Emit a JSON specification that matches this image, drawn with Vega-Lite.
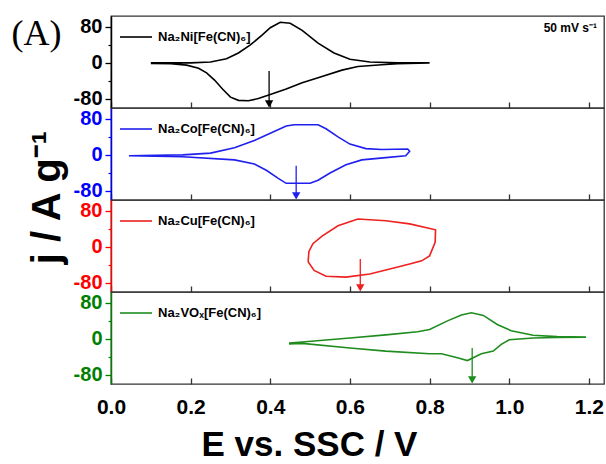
{
  "$schema": "https://vega.github.io/schema/vega-lite/v6.json",
  "padding": {"left": 10, "top": 14, "right": 0, "bottom": 0},
  "spacing": 0,
  "bounds": "flush",
  "resolve": {"scale": {"color": "independent"}, "legend": {"color": "independent"}},
  "config": {
    "font": "Liberation Sans",
    "view": {"stroke": "#333", "strokeWidth": 1.3},
    "axis": {"grid": false, "labelFont": "Liberation Sans", "titleFont": "Liberation Sans"},
    "legend": {"orient": "none", "legendX": 8, "legendY": 4, "padding": 0, "symbolType": "stroke", "symbolSize": 1024, "symbolStrokeWidth": 1.6, "labelFontSize": 13, "labelFontWeight": "bold", "labelColor": "#000", "labelOffset": 5, "labelFont": "Liberation Sans"}
  },
  "datasets": {
    "cv": [
      {"s": "Na₂Ni[Fe(CN)₆]", "i": 0, "E": 0.10, "j": 0},
      {"s": "Na₂Ni[Fe(CN)₆]", "i": 1, "E": 0.20, "j": 0},
      {"s": "Na₂Ni[Fe(CN)₆]", "i": 2, "E": 0.25, "j": 2},
      {"s": "Na₂Ni[Fe(CN)₆]", "i": 3, "E": 0.29, "j": 9},
      {"s": "Na₂Ni[Fe(CN)₆]", "i": 4, "E": 0.32, "j": 22},
      {"s": "Na₂Ni[Fe(CN)₆]", "i": 5, "E": 0.35, "j": 40},
      {"s": "Na₂Ni[Fe(CN)₆]", "i": 6, "E": 0.38, "j": 62},
      {"s": "Na₂Ni[Fe(CN)₆]", "i": 7, "E": 0.40, "j": 78},
      {"s": "Na₂Ni[Fe(CN)₆]", "i": 8, "E": 0.425, "j": 90},
      {"s": "Na₂Ni[Fe(CN)₆]", "i": 9, "E": 0.45, "j": 88},
      {"s": "Na₂Ni[Fe(CN)₆]", "i": 10, "E": 0.48, "j": 72},
      {"s": "Na₂Ni[Fe(CN)₆]", "i": 11, "E": 0.52, "j": 44},
      {"s": "Na₂Ni[Fe(CN)₆]", "i": 12, "E": 0.56, "j": 22},
      {"s": "Na₂Ni[Fe(CN)₆]", "i": 13, "E": 0.60, "j": 8},
      {"s": "Na₂Ni[Fe(CN)₆]", "i": 14, "E": 0.65, "j": 2},
      {"s": "Na₂Ni[Fe(CN)₆]", "i": 15, "E": 0.72, "j": 0},
      {"s": "Na₂Ni[Fe(CN)₆]", "i": 16, "E": 0.80, "j": 0},
      {"s": "Na₂Ni[Fe(CN)₆]", "i": 17, "E": 0.72, "j": -2},
      {"s": "Na₂Ni[Fe(CN)₆]", "i": 18, "E": 0.68, "j": -4},
      {"s": "Na₂Ni[Fe(CN)₆]", "i": 19, "E": 0.62, "j": -8},
      {"s": "Na₂Ni[Fe(CN)₆]", "i": 20, "E": 0.58, "j": -16},
      {"s": "Na₂Ni[Fe(CN)₆]", "i": 21, "E": 0.52, "j": -33},
      {"s": "Na₂Ni[Fe(CN)₆]", "i": 22, "E": 0.48, "j": -44},
      {"s": "Na₂Ni[Fe(CN)₆]", "i": 23, "E": 0.44, "j": -58},
      {"s": "Na₂Ni[Fe(CN)₆]", "i": 24, "E": 0.40, "j": -70},
      {"s": "Na₂Ni[Fe(CN)₆]", "i": 25, "E": 0.37, "j": -79},
      {"s": "Na₂Ni[Fe(CN)₆]", "i": 26, "E": 0.345, "j": -84},
      {"s": "Na₂Ni[Fe(CN)₆]", "i": 27, "E": 0.32, "j": -83},
      {"s": "Na₂Ni[Fe(CN)₆]", "i": 28, "E": 0.30, "j": -76},
      {"s": "Na₂Ni[Fe(CN)₆]", "i": 29, "E": 0.28, "j": -58},
      {"s": "Na₂Ni[Fe(CN)₆]", "i": 30, "E": 0.26, "j": -38},
      {"s": "Na₂Ni[Fe(CN)₆]", "i": 31, "E": 0.24, "j": -22},
      {"s": "Na₂Ni[Fe(CN)₆]", "i": 32, "E": 0.22, "j": -12},
      {"s": "Na₂Ni[Fe(CN)₆]", "i": 33, "E": 0.19, "j": -5},
      {"s": "Na₂Ni[Fe(CN)₆]", "i": 34, "E": 0.15, "j": -2},
      {"s": "Na₂Ni[Fe(CN)₆]", "i": 35, "E": 0.10, "j": -1},

      {"s": "Na₂Co[Fe(CN)₆]", "i": 0, "E": 0.045, "j": -2},
      {"s": "Na₂Co[Fe(CN)₆]", "i": 1, "E": 0.18, "j": 0},
      {"s": "Na₂Co[Fe(CN)₆]", "i": 2, "E": 0.25, "j": 4},
      {"s": "Na₂Co[Fe(CN)₆]", "i": 3, "E": 0.31, "j": 16},
      {"s": "Na₂Co[Fe(CN)₆]", "i": 4, "E": 0.36, "j": 32},
      {"s": "Na₂Co[Fe(CN)₆]", "i": 5, "E": 0.40, "j": 48},
      {"s": "Na₂Co[Fe(CN)₆]", "i": 6, "E": 0.44, "j": 64},
      {"s": "Na₂Co[Fe(CN)₆]", "i": 7, "E": 0.46, "j": 67},
      {"s": "Na₂Co[Fe(CN)₆]", "i": 8, "E": 0.52, "j": 67},
      {"s": "Na₂Co[Fe(CN)₆]", "i": 9, "E": 0.54, "j": 58},
      {"s": "Na₂Co[Fe(CN)₆]", "i": 10, "E": 0.57, "j": 40},
      {"s": "Na₂Co[Fe(CN)₆]", "i": 11, "E": 0.60, "j": 24},
      {"s": "Na₂Co[Fe(CN)₆]", "i": 12, "E": 0.64, "j": 14},
      {"s": "Na₂Co[Fe(CN)₆]", "i": 13, "E": 0.68, "j": 12},
      {"s": "Na₂Co[Fe(CN)₆]", "i": 14, "E": 0.745, "j": 13},
      {"s": "Na₂Co[Fe(CN)₆]", "i": 15, "E": 0.75, "j": 8},
      {"s": "Na₂Co[Fe(CN)₆]", "i": 16, "E": 0.74, "j": -2},
      {"s": "Na₂Co[Fe(CN)₆]", "i": 17, "E": 0.69, "j": -6},
      {"s": "Na₂Co[Fe(CN)₆]", "i": 18, "E": 0.63, "j": -11},
      {"s": "Na₂Co[Fe(CN)₆]", "i": 19, "E": 0.59, "j": -22},
      {"s": "Na₂Co[Fe(CN)₆]", "i": 20, "E": 0.55, "j": -40},
      {"s": "Na₂Co[Fe(CN)₆]", "i": 21, "E": 0.52, "j": -56},
      {"s": "Na₂Co[Fe(CN)₆]", "i": 22, "E": 0.50, "j": -63},
      {"s": "Na₂Co[Fe(CN)₆]", "i": 23, "E": 0.44, "j": -63},
      {"s": "Na₂Co[Fe(CN)₆]", "i": 24, "E": 0.42, "j": -52},
      {"s": "Na₂Co[Fe(CN)₆]", "i": 25, "E": 0.39, "j": -34},
      {"s": "Na₂Co[Fe(CN)₆]", "i": 26, "E": 0.36, "j": -20},
      {"s": "Na₂Co[Fe(CN)₆]", "i": 27, "E": 0.31, "j": -11},
      {"s": "Na₂Co[Fe(CN)₆]", "i": 28, "E": 0.18, "j": -4},
      {"s": "Na₂Co[Fe(CN)₆]", "i": 29, "E": 0.045, "j": -2},

      {"s": "Na₂Cu[Fe(CN)₆]", "i": 0, "E": 0.495, "j": -33},
      {"s": "Na₂Cu[Fe(CN)₆]", "i": 1, "E": 0.497, "j": -10},
      {"s": "Na₂Cu[Fe(CN)₆]", "i": 2, "E": 0.507, "j": 7},
      {"s": "Na₂Cu[Fe(CN)₆]", "i": 3, "E": 0.53, "j": 24},
      {"s": "Na₂Cu[Fe(CN)₆]", "i": 4, "E": 0.57, "j": 47},
      {"s": "Na₂Cu[Fe(CN)₆]", "i": 5, "E": 0.62, "j": 62},
      {"s": "Na₂Cu[Fe(CN)₆]", "i": 6, "E": 0.69, "j": 58},
      {"s": "Na₂Cu[Fe(CN)₆]", "i": 7, "E": 0.75, "j": 51},
      {"s": "Na₂Cu[Fe(CN)₆]", "i": 8, "E": 0.815, "j": 38},
      {"s": "Na₂Cu[Fe(CN)₆]", "i": 9, "E": 0.814, "j": 10},
      {"s": "Na₂Cu[Fe(CN)₆]", "i": 10, "E": 0.80, "j": -20},
      {"s": "Na₂Cu[Fe(CN)₆]", "i": 11, "E": 0.78, "j": -31},
      {"s": "Na₂Cu[Fe(CN)₆]", "i": 12, "E": 0.75, "j": -38},
      {"s": "Na₂Cu[Fe(CN)₆]", "i": 13, "E": 0.70, "j": -49},
      {"s": "Na₂Cu[Fe(CN)₆]", "i": 14, "E": 0.65, "j": -60},
      {"s": "Na₂Cu[Fe(CN)₆]", "i": 15, "E": 0.59, "j": -67},
      {"s": "Na₂Cu[Fe(CN)₆]", "i": 16, "E": 0.54, "j": -65},
      {"s": "Na₂Cu[Fe(CN)₆]", "i": 17, "E": 0.51, "j": -52},
      {"s": "Na₂Cu[Fe(CN)₆]", "i": 18, "E": 0.495, "j": -33},

      {"s": "Na₂VOₓ[Fe(CN)₆]", "i": 0, "E": 0.447, "j": -9},
      {"s": "Na₂VOₓ[Fe(CN)₆]", "i": 1, "E": 0.48, "j": -7},
      {"s": "Na₂VOₓ[Fe(CN)₆]", "i": 2, "E": 0.60, "j": 2},
      {"s": "Na₂VOₓ[Fe(CN)₆]", "i": 3, "E": 0.69, "j": 9},
      {"s": "Na₂VOₓ[Fe(CN)₆]", "i": 4, "E": 0.77, "j": 16},
      {"s": "Na₂VOₓ[Fe(CN)₆]", "i": 5, "E": 0.80, "j": 21},
      {"s": "Na₂VOₓ[Fe(CN)₆]", "i": 6, "E": 0.845, "j": 40},
      {"s": "Na₂VOₓ[Fe(CN)₆]", "i": 7, "E": 0.88, "j": 53},
      {"s": "Na₂VOₓ[Fe(CN)₆]", "i": 8, "E": 0.905, "j": 58},
      {"s": "Na₂VOₓ[Fe(CN)₆]", "i": 9, "E": 0.935, "j": 52},
      {"s": "Na₂VOₓ[Fe(CN)₆]", "i": 10, "E": 0.97, "j": 32},
      {"s": "Na₂VOₓ[Fe(CN)₆]", "i": 11, "E": 1.005, "j": 18},
      {"s": "Na₂VOₓ[Fe(CN)₆]", "i": 12, "E": 1.06, "j": 8},
      {"s": "Na₂VOₓ[Fe(CN)₆]", "i": 13, "E": 1.12, "j": 5},
      {"s": "Na₂VOₓ[Fe(CN)₆]", "i": 14, "E": 1.193, "j": 4},
      {"s": "Na₂VOₓ[Fe(CN)₆]", "i": 15, "E": 1.12, "j": 3},
      {"s": "Na₂VOₓ[Fe(CN)₆]", "i": 16, "E": 1.06, "j": 2},
      {"s": "Na₂VOₓ[Fe(CN)₆]", "i": 17, "E": 1.00, "j": -2},
      {"s": "Na₂VOₓ[Fe(CN)₆]", "i": 18, "E": 0.98, "j": -12},
      {"s": "Na₂VOₓ[Fe(CN)₆]", "i": 19, "E": 0.96, "j": -27},
      {"s": "Na₂VOₓ[Fe(CN)₆]", "i": 20, "E": 0.93, "j": -33},
      {"s": "Na₂VOₓ[Fe(CN)₆]", "i": 21, "E": 0.895, "j": -48},
      {"s": "Na₂VOₓ[Fe(CN)₆]", "i": 22, "E": 0.87, "j": -42},
      {"s": "Na₂VOₓ[Fe(CN)₆]", "i": 23, "E": 0.83, "j": -33},
      {"s": "Na₂VOₓ[Fe(CN)₆]", "i": 24, "E": 0.80, "j": -33},
      {"s": "Na₂VOₓ[Fe(CN)₆]", "i": 25, "E": 0.69, "j": -27},
      {"s": "Na₂VOₓ[Fe(CN)₆]", "i": 26, "E": 0.60, "j": -20},
      {"s": "Na₂VOₓ[Fe(CN)₆]", "i": 27, "E": 0.48, "j": -10},
      {"s": "Na₂VOₓ[Fe(CN)₆]", "i": 28, "E": 0.447, "j": -11}
    ],
    "arrows": [
      {"s": "Na₂Ni[Fe(CN)₆]", "E": 0.397, "y1": -18, "y2": -91},
      {"s": "Na₂Co[Fe(CN)₆]", "E": 0.465, "y1": -24, "y2": -91},
      {"s": "Na₂Cu[Fe(CN)₆]", "E": 0.626, "y1": -27, "y2": -91},
      {"s": "Na₂VOₓ[Fe(CN)₆]", "E": 0.907, "y1": -20, "y2": -91}
    ]
  },
  "vconcat": [
    {
      "width": 493, "height": 92,
      "title": {"text": "50 mV s⁻¹", "anchor": "end", "frame": "group", "offset": -20, "dx": -7, "fontSize": 12, "fontWeight": "bold", "font": "Liberation Sans", "color": "#000"},
      "resolve": {"axis": {"y": "independent"}},
      "layer": [
        {
          "data": {"name": "cv"},
          "transform": [{"filter": "datum.s === 'Na₂Ni[Fe(CN)₆]'"}],
          "mark": {"type": "line", "strokeWidth": 1.6},
          "encoding": {
            "x": {"field": "E", "type": "quantitative", "scale": {"domain": [0, 1.238], "nice": false, "zero": false},
                  "axis": {"values": [0, 0.2, 0.4, 0.6, 0.8, 1.0, 1.2], "labels": false, "title": null, "domain": false, "tickSize": -6, "tickColor": "#333", "tickWidth": 1.3}},
            "y": {"field": "j", "type": "quantitative", "scale": {"domain": [-100, 104], "nice": false, "zero": false},
                  "axis": {"orient": "left", "values": [-80, 0, 80], "labelExpr": "toString(datum.value)", "tickSize": 6, "labelPadding": 3, "labelFontSize": 20, "labelFontWeight": "bold", "labelColor": "#000", "tickColor": "#000", "domainColor": "#000", "domainWidth": 1.5, "tickWidth": 1.3,
                           "title": "(A)", "titleAngle": 0, "titleFont": "Liberation Serif", "titleFontSize": 36, "titleFontWeight": "normal", "titleX": -100, "titleY": 28, "titleAlign": "left", "titleBaseline": "alphabetic", "titleColor": "#000"}},
            "order": {"field": "i", "type": "quantitative"},
            "color": {"field": "s", "type": "nominal", "scale": {"range": ["#000000"]}, "title": null}
          }
        },
        {
          "data": {"name": "arrows"},
          "transform": [{"filter": "datum.s === 'Na₂Ni[Fe(CN)₆]'"}],
          "mark": {"type": "rule", "strokeWidth": 1.3, "color": "#000000"},
          "encoding": {
            "x": {"field": "E", "type": "quantitative"},
            "y": {"field": "y1", "type": "quantitative", "axis": {"orient": "left", "values": [-40, 40], "labels": false, "domain": false, "tickSize": 3, "tickColor": "#000", "tickWidth": 1.2, "title": null}},
            "y2": {"field": "y2"}
          }
        },
        {
          "data": {"name": "arrows"},
          "transform": [{"filter": "datum.s === 'Na₂Ni[Fe(CN)₆]'"}],
          "mark": {"type": "point", "shape": "triangle-down", "filled": true, "size": 70, "color": "#000000", "opacity": 1},
          "encoding": {
            "x": {"field": "E", "type": "quantitative"},
            "y": {"field": "y2", "type": "quantitative", "axis": null}
          }
        }
      ]
    },
    {
      "width": 493, "height": 92,
      "resolve": {"axis": {"y": "independent"}},
      "layer": [
        {
          "data": {"name": "cv"},
          "transform": [{"filter": "datum.s === 'Na₂Co[Fe(CN)₆]'"}],
          "mark": {"type": "line", "strokeWidth": 1.6},
          "encoding": {
            "x": {"field": "E", "type": "quantitative", "scale": {"domain": [0, 1.238], "nice": false, "zero": false},
                  "axis": {"values": [0, 0.2, 0.4, 0.6, 0.8, 1.0, 1.2], "labels": false, "title": null, "domain": false, "tickSize": -6, "tickColor": "#333", "tickWidth": 1.3}},
            "y": {"field": "j", "type": "quantitative", "scale": {"domain": [-100, 104], "nice": false, "zero": false},
                  "axis": {"orient": "left", "values": [-80, 0, 80], "labelExpr": "toString(datum.value)", "tickSize": 6, "labelPadding": 3, "labelFontSize": 20, "labelFontWeight": "bold", "labelColor": "#0000ff", "tickColor": "#0000ff", "domainColor": "#0000ff", "domainWidth": 1.5, "tickWidth": 1.3,
                           "title": "j / A g⁻¹", "titleAngle": 270, "titleFontSize": 40, "titleFontWeight": "bold", "titleX": -52, "titleY": 89, "titleAlign": "center", "titleBaseline": "alphabetic", "titleColor": "#000"}},
            "order": {"field": "i", "type": "quantitative"},
            "color": {"field": "s", "type": "nominal", "scale": {"range": ["#2020ee"]}, "title": null}
          }
        },
        {
          "data": {"name": "arrows"},
          "transform": [{"filter": "datum.s === 'Na₂Co[Fe(CN)₆]'"}],
          "mark": {"type": "rule", "strokeWidth": 1.3, "color": "#2020ee"},
          "encoding": {
            "x": {"field": "E", "type": "quantitative"},
            "y": {"field": "y1", "type": "quantitative", "axis": {"orient": "left", "values": [-40, 40], "labels": false, "domain": false, "tickSize": 3, "tickColor": "#0000ff", "tickWidth": 1.2, "title": null}},
            "y2": {"field": "y2"}
          }
        },
        {
          "data": {"name": "arrows"},
          "transform": [{"filter": "datum.s === 'Na₂Co[Fe(CN)₆]'"}],
          "mark": {"type": "point", "shape": "triangle-down", "filled": true, "size": 70, "color": "#2020ee", "opacity": 1},
          "encoding": {
            "x": {"field": "E", "type": "quantitative"},
            "y": {"field": "y2", "type": "quantitative", "axis": null}
          }
        }
      ]
    },
    {
      "width": 493, "height": 92,
      "resolve": {"axis": {"y": "independent"}},
      "layer": [
        {
          "data": {"name": "cv"},
          "transform": [{"filter": "datum.s === 'Na₂Cu[Fe(CN)₆]'"}],
          "mark": {"type": "line", "strokeWidth": 1.6},
          "encoding": {
            "x": {"field": "E", "type": "quantitative", "scale": {"domain": [0, 1.238], "nice": false, "zero": false},
                  "axis": {"values": [0, 0.2, 0.4, 0.6, 0.8, 1.0, 1.2], "labels": false, "title": null, "domain": false, "tickSize": -6, "tickColor": "#333", "tickWidth": 1.3}},
            "y": {"field": "j", "type": "quantitative", "scale": {"domain": [-100, 104], "nice": false, "zero": false},
                  "axis": {"orient": "left", "values": [-80, 0, 80], "labelExpr": "toString(datum.value)", "tickSize": 6, "labelPadding": 3, "labelFontSize": 20, "labelFontWeight": "bold", "labelColor": "#ff0000", "tickColor": "#ff0000", "domainColor": "#ff0000", "domainWidth": 1.5, "tickWidth": 1.3, "title": null}},
            "order": {"field": "i", "type": "quantitative"},
            "color": {"field": "s", "type": "nominal", "scale": {"range": ["#ee2020"]}, "title": null}
          }
        },
        {
          "data": {"name": "arrows"},
          "transform": [{"filter": "datum.s === 'Na₂Cu[Fe(CN)₆]'"}],
          "mark": {"type": "rule", "strokeWidth": 1.3, "color": "#ee2020"},
          "encoding": {
            "x": {"field": "E", "type": "quantitative"},
            "y": {"field": "y1", "type": "quantitative", "axis": {"orient": "left", "values": [-40, 40], "labels": false, "domain": false, "tickSize": 3, "tickColor": "#ff0000", "tickWidth": 1.2, "title": null}},
            "y2": {"field": "y2"}
          }
        },
        {
          "data": {"name": "arrows"},
          "transform": [{"filter": "datum.s === 'Na₂Cu[Fe(CN)₆]'"}],
          "mark": {"type": "point", "shape": "triangle-down", "filled": true, "size": 70, "color": "#ee2020", "opacity": 1},
          "encoding": {
            "x": {"field": "E", "type": "quantitative"},
            "y": {"field": "y2", "type": "quantitative", "axis": null}
          }
        }
      ]
    },
    {
      "width": 493, "height": 92,
      "resolve": {"axis": {"y": "independent"}},
      "layer": [
        {
          "data": {"name": "cv"},
          "transform": [{"filter": "datum.s === 'Na₂VOₓ[Fe(CN)₆]'"}],
          "mark": {"type": "line", "strokeWidth": 1.6},
          "encoding": {
            "x": {"field": "E", "type": "quantitative", "scale": {"domain": [0, 1.238], "nice": false, "zero": false},
                  "axis": {"values": [0, 0.2, 0.4, 0.6, 0.8, 1.0, 1.2], "format": ".1f", "labelFontSize": 21, "labelFontWeight": "bold", "labelColor": "#000", "labelPadding": 18, "labelFlush": false, "domain": false, "tickSize": -6, "tickColor": "#333", "tickWidth": 1.3,
                           "title": "E vs. SSC / V", "titleFontSize": 35, "titleFontWeight": "bold", "titleColor": "#000", "titleX": 198, "titleY": 71, "titleAlign": "center", "titleBaseline": "alphabetic"}},
            "y": {"field": "j", "type": "quantitative", "scale": {"domain": [-100, 104], "nice": false, "zero": false},
                  "axis": {"orient": "left", "values": [-80, 0, 80], "labelExpr": "toString(datum.value)", "tickSize": 6, "labelPadding": 3, "labelFontSize": 20, "labelFontWeight": "bold", "labelColor": "#008000", "tickColor": "#008000", "domainColor": "#008000", "domainWidth": 1.5, "tickWidth": 1.3, "title": null}},
            "order": {"field": "i", "type": "quantitative"},
            "color": {"field": "s", "type": "nominal", "scale": {"range": ["#1e8c1e"]}, "title": null}
          }
        },
        {
          "data": {"name": "arrows"},
          "transform": [{"filter": "datum.s === 'Na₂VOₓ[Fe(CN)₆]'"}],
          "mark": {"type": "rule", "strokeWidth": 1.3, "color": "#1e8c1e"},
          "encoding": {
            "x": {"field": "E", "type": "quantitative"},
            "y": {"field": "y1", "type": "quantitative", "axis": {"orient": "left", "values": [-40, 40], "labels": false, "domain": false, "tickSize": 3, "tickColor": "#008000", "tickWidth": 1.2, "title": null}},
            "y2": {"field": "y2"}
          }
        },
        {
          "data": {"name": "arrows"},
          "transform": [{"filter": "datum.s === 'Na₂VOₓ[Fe(CN)₆]'"}],
          "mark": {"type": "point", "shape": "triangle-down", "filled": true, "size": 70, "color": "#1e8c1e", "opacity": 1},
          "encoding": {
            "x": {"field": "E", "type": "quantitative"},
            "y": {"field": "y2", "type": "quantitative", "axis": null}
          }
        }
      ]
    }
  ]
}
